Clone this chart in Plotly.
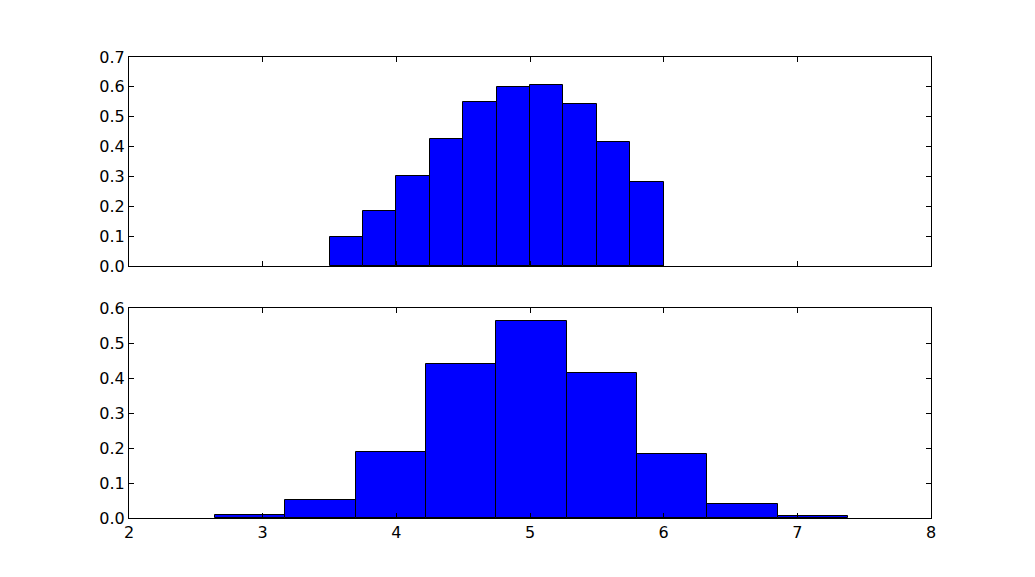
import plotly.graph_objects as go
from plotly.subplots import make_subplots

top_edges = [3.5, 3.75, 4.0, 4.25, 4.5, 4.75, 5.0, 5.25, 5.5, 5.75, 6.0]
top_values = [0.097, 0.184, 0.301, 0.425, 0.549, 0.599, 0.606, 0.543, 0.415, 0.281]

bot_edges = [2.643, 3.169, 3.696, 4.222, 4.748, 5.274, 5.800, 6.327, 6.853, 7.379]
bot_values = [0.0086, 0.051, 0.189, 0.440, 0.563, 0.414, 0.183, 0.040, 0.006]

top_x_ticks = [2, 3, 4, 5, 6, 7, 8]
top_y_ticks = [0.0, 0.1, 0.2, 0.3, 0.4, 0.5, 0.6, 0.7]
bot_y_ticks = [0.0, 0.1, 0.2, 0.3, 0.4, 0.5, 0.6]

def centers(edges):
    return [(a + b) / 2 for a, b in zip(edges[:-1], edges[1:])]

def widths(edges):
    return [b - a for a, b in zip(edges[:-1], edges[1:])]

fig = make_subplots(rows=2, cols=1, vertical_spacing=0.09)

fig.add_trace(go.Bar(x=centers(top_edges), y=top_values, width=widths(top_edges),
                     marker=dict(color="#0000ff", line=dict(color="black", width=1)),
                     showlegend=False), row=1, col=1)
fig.add_trace(go.Bar(x=centers(bot_edges), y=bot_values, width=widths(bot_edges),
                     marker=dict(color="#0000ff", line=dict(color="black", width=1)),
                     showlegend=False), row=2, col=1)

axis_common = dict(showline=True, linecolor="black", linewidth=1, mirror="ticks",
                   ticks="inside", ticklen=5, tickcolor="black", showgrid=False,
                   zeroline=False, tickfont=dict(family="DejaVu Sans", size=16, color="black"))

fig.update_xaxes(range=[2, 8], tickvals=top_x_ticks, **axis_common)
fig.update_xaxes(showticklabels=False, row=1, col=1)
fig.update_yaxes(**axis_common)
fig.update_yaxes(range=[0, 0.7], tickvals=top_y_ticks, tickformat=".1f", row=1, col=1)
fig.update_yaxes(range=[0, 0.6], tickvals=bot_y_ticks, tickformat=".1f", row=2, col=1)

fig.update_layout(
    width=1035, height=577,
    margin=dict(l=121, r=112, t=49, b=67),
    paper_bgcolor="white", plot_bgcolor="white",
    bargap=0,
    yaxis=dict(domain=[0.5466, 1.0]),
    yaxis2=dict(domain=[0.0, 0.4555]),
)

fig.write_html("out.html")
